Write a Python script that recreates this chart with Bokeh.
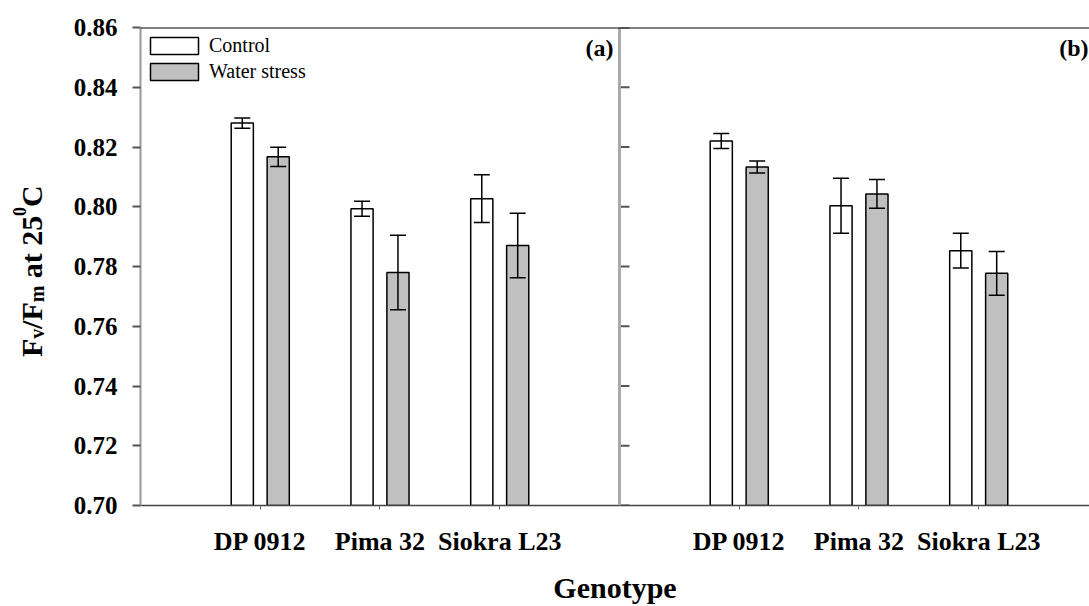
from bokeh.plotting import figure
from bokeh.layouts import row
from bokeh.models import (Range1d, FixedTicker, Whisker, TeeHead, ColumnDataSource,
                          Span, Label, Legend, LegendItem, NumeralTickFormatter)
from bokeh.core.properties import value
from bokeh.embed import file_html
from bokeh.resources import INLINE
import math

# ---------------- data ----------------
genotypes = ["DP 0912", "Pima 32", "Siokra L23"]
panels = ["(a)", "(b)"]
series = ["Control", "Water stress"]

a_control = [0.8280, 0.7993, 0.8027]
a_control_err = [0.0017, 0.0025, 0.0080]
a_stress = [0.8167, 0.7780, 0.7870]
a_stress_err = [0.0032, 0.0125, 0.0108]

b_control = [0.8220, 0.8003, 0.7853]
b_control_err = [0.0025, 0.0092, 0.0058]
b_stress = [0.8133, 0.8043, 0.7777]
b_stress_err = [0.0020, 0.0048, 0.0073]

y_ticks = [0.70, 0.72, 0.74, 0.76, 0.78, 0.80, 0.82, 0.84, 0.86]

# ---------------- style ----------------
FONT = "Liberation Serif"
PANEL_SPAN = 4
X_END = 7.925
BAR_W = 0.185
OFFSET = 0.15
Y_MIN, Y_MAX = y_ticks[0], y_ticks[-1]
TITLE_W = 60
H = 606
TOP, BOTTOM = 27, 99

p = figure(width=1089 - TITLE_W, height=H,
           x_range=Range1d(0, X_END), y_range=Range1d(Y_MIN, Y_MAX),
           output_backend="svg", toolbar_location=None,
           min_border_left=140 - TITLE_W, min_border_right=0,
           min_border_top=TOP, min_border_bottom=BOTTOM)
p.grid.visible = False
p.outline_line_color = None
p.background_fill_color = "white"
p.border_fill_color = "white"

centers, ctrl_v, ctrl_e, ws_v, ws_e = [], [], [], [], []
overrides = {}
panel_data = [(a_control, a_control_err, a_stress, a_stress_err),
              (b_control, b_control_err, b_stress, b_stress_err)]
for k, (cv, ce, sv, se) in enumerate(panel_data):
    for i, g in enumerate(genotypes):
        c = k * PANEL_SPAN + i + 1
        centers.append(c)
        overrides[c] = g
        ctrl_v.append(cv[i]); ctrl_e.append(ce[i])
        ws_v.append(sv[i]); ws_e.append(se[i])

src_c = ColumnDataSource(dict(
    x=[c - OFFSET for c in centers], top=ctrl_v,
    upper=[v + e for v, e in zip(ctrl_v, ctrl_e)],
    lower=[v - e for v, e in zip(ctrl_v, ctrl_e)]))
src_w = ColumnDataSource(dict(
    x=[c + OFFSET for c in centers], top=ws_v,
    upper=[v + e for v, e in zip(ws_v, ws_e)],
    lower=[v - e for v, e in zip(ws_v, ws_e)]))

r_c = p.vbar(x="x", top="top", bottom=Y_MIN, width=BAR_W, source=src_c,
             fill_color="white", line_color="black", line_width=1.5)
r_w = p.vbar(x="x", top="top", bottom=Y_MIN, width=BAR_W, source=src_w,
             fill_color="#c0c0c0", line_color="black", line_width=1.5)

for src in (src_c, src_w):
    p.add_layout(Whisker(base="x", upper="upper", lower="lower", source=src,
                         dimension="height", line_color="black", line_width=1.5,
                         level="annotation",
                         upper_head=TeeHead(size=16, line_color="black", line_width=1.5),
                         lower_head=TeeHead(size=16, line_color="black", line_width=1.5)))

# panel divider with inward ticks
p.add_layout(Span(location=PANEL_SPAN, dimension="height",
                  line_color="#aaaaaa", line_width=3))
p.ray(x=[PANEL_SPAN] * len(y_ticks), y=y_ticks, length=10, length_units="screen",
      angle=0, line_color="#555555", line_width=2)
# top frame line
p.add_layout(Span(location=Y_MAX, dimension="width", line_color="black", line_width=2))

# panel labels
for k, t_ in enumerate(panels):
    p.add_layout(Label(x=PANEL_SPAN * (k + 1), y=Y_MAX, x_offset=-6 if k == 0 else -10,
                       y_offset=-7,
                       text=t_, text_align="right", text_baseline="top",
                       text_font=FONT, text_font_style="bold",
                       text_font_size="24px", text_color="black"))

# axes
xa = p.xaxis[0]
xa.ticker = FixedTicker(ticks=centers)
xa.major_label_overrides = overrides
xa.axis_line_color = "#444444"
xa.axis_line_width = 1.5
xa.major_tick_out = 4
xa.major_tick_in = 0
xa.major_tick_line_color = "#666666"
xa.minor_tick_line_color = None
xa.major_label_text_font = FONT
xa.major_label_text_font_style = "bold"
xa.major_label_text_font_size = "26px"
xa.major_label_text_color = "black"
xa.major_label_standoff = 17
xa.axis_label = "Genotype"
xa.axis_label_text_font = FONT
xa.axis_label_text_font_style = "bold"
xa.axis_label_text_font_size = "30px"
xa.axis_label_text_color = "black"
xa.axis_label_standoff = 12

ya = p.yaxis[0]
ya.ticker = FixedTicker(ticks=y_ticks)
ya.formatter = NumeralTickFormatter(format="0.00")
ya.axis_line_color = "#999999"
ya.axis_line_width = 2
ya.major_tick_out = 8
ya.major_tick_in = 0
ya.major_tick_line_color = "#555555"
ya.major_tick_line_width = 2
ya.minor_tick_line_color = None
ya.major_label_text_font = FONT
ya.major_label_text_font_style = "bold"
ya.major_label_text_font_size = "25px"
ya.major_label_text_color = "black"
ya.major_label_standoff = 15

legend = Legend(items=[LegendItem(label=series[0], renderers=[r_c]),
                       LegendItem(label=series[1], renderers=[r_w])],
                location="top_left", margin=4, padding=12, spacing=3,
                glyph_width=60, glyph_height=21, label_standoff=5,
                title=" ", title_text_font_size="1px", title_standoff=2,
                label_text_font=FONT, label_text_font_size="20px",
                label_text_color="black", border_line_color=None,
                background_fill_alpha=0)
p.add_layout(legend)

# ---------------- y-axis title (own narrow canvas, built from pieces) ----------------
# the row aligns frames, so give this canvas the same top/bottom borders and
# a y range equal to (canvas height - page y)
t = figure(width=TITLE_W, height=H, x_range=Range1d(0, TITLE_W),
           y_range=Range1d(BOTTOM, H - TOP),
           output_backend="svg", toolbar_location=None,
           x_axis_location=None, y_axis_location=None,
           min_border_left=0, min_border_right=0,
           min_border_top=TOP, min_border_bottom=BOTTOM)
t.grid.visible = False
t.outline_line_color = None
t.background_fill_color = "white"
t.border_fill_color = "white"

em = {"F": 0.611, "v": 0.5, "/": 0.278, "m": 0.833, " ": 0.25, "a": 0.5,
      "t": 0.333, "2": 0.5, "5": 0.5, "0": 0.5, "C": 0.722}
pieces = [("F", 30, 0, 0), ("v", 20, 5, 0), ("/F", 30, 0, 0), ("m", 20, 5, 0),
          ("at 25", 30, 0, 7.5), ("0", 18, -12, 0), ("C", 30, 0, 0)]
base_x = 31
pos_y = H - 358
tx, ty, tt, ts = [], [], [], []
for txt, size, shift, gap in pieces:
    pos_y += gap
    tx.append(base_x + shift); ty.append(pos_y); tt.append(txt); ts.append(f"{size}px")
    pos_y += sum(em[ch] for ch in txt) * size
src_t = ColumnDataSource(dict(x=tx, y=ty, text=tt, size=ts))
t.text(x="x", y="y", text="text", text_font_size="size", source=src_t,
       angle=math.pi / 2, text_align="left", text_baseline="alphabetic",
       text_font=value(FONT), text_font_style="bold", text_color="black")

layout = row(t, p, spacing=0)
open("out.html", "w").write(file_html(layout, INLINE))
